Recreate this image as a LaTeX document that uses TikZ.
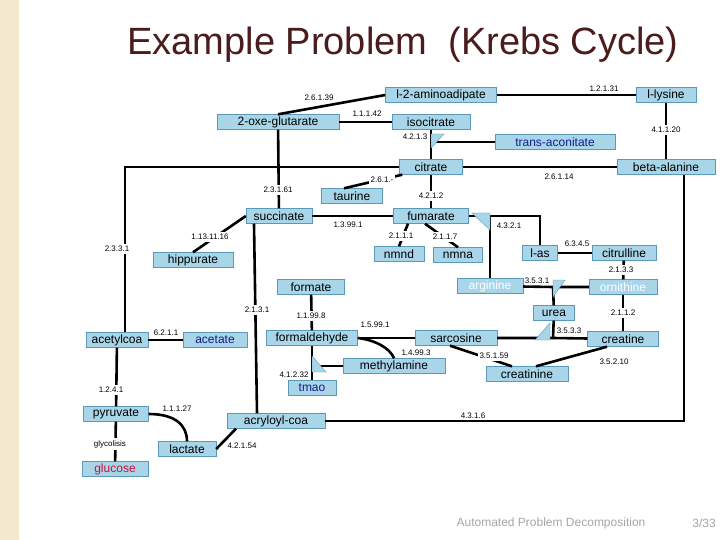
\documentclass[tikz,border=0pt]{standalone}
\usepackage{fontspec}
\setmainfont{Liberation Sans}
\begin{document}
\begin{tikzpicture}[x=1pt,y=-1pt,
  box/.style={draw=boxb, fill=boxf, minimum height=15, inner sep=0pt, font=\fontsize{12}{13}\selectfont},
  lab/.style={font=\fontsize{8}{9}\selectfont, inner sep=0.5pt},
  labw/.style={lab, fill=white, inner sep=2pt},
  e/.style={line width=2.6pt},
  tri/.style={fill=boxf, draw=boxb, line width=0.4pt}]
\definecolor{boxf}{HTML}{A8D5E8}
\definecolor{boxb}{HTML}{5A9AB8}
\definecolor{titc}{HTML}{4A1C1C}
\definecolor{bluet}{HTML}{1A1A8C}
\definecolor{redt}{HTML}{D0103A}
\definecolor{strip}{HTML}{F3E8CE}
\useasboundingbox (0,0) rectangle (720,540);
\fill[white] (0,0) rectangle (720,540);
\fill[strip] (0,0) rectangle (19,540);
\node[text=titc, font=\fontsize{38}{42}\selectfont] (title) at (403,45) {Example Problem\ \ (Krebs Cycle)};
\node[text=gray!70, font=\fontsize{12}{14}\selectfont] (foot) at (551,523) {Automated Problem Decomposition};
\node[text=gray!70, font=\fontsize{12}{14}\selectfont] (page) at (704,523) {3/33};
% nodes
\node[box, minimum width=111] (aa) at (441,95) {l-2-aminoadipate};
\node[box, minimum width=60] (lys) at (666,95) {l-lysine};
\node[box, minimum width=122] (oxe) at (278,122) {2-oxe-glutarate};
\node[box, minimum width=78] (iso) at (431,122) {isocitrate};
\node[box, minimum width=120, text=bluet] (trans) at (555,142) {trans-aconitate};
\node[box, minimum width=63] (cit) at (431,167) {citrate};
\node[box, minimum width=98] (beta) at (666,167) {beta-alanine};
\node[box, minimum width=61] (tau) at (352,196) {taurine};
\node[box, minimum width=66] (suc) at (279,216) {succinate};
\node[box, minimum width=75] (fum) at (431,216) {fumarate};
\node[box, minimum width=50] (nmnd) at (399,254) {nmnd};
\node[box, minimum width=49] (nmna) at (458,255) {nmna};
\node[box, minimum width=35] (las) at (540,253) {l-as};
\node[box, minimum width=64] (citr) at (624,253) {citrulline};
\node[box, minimum width=80] (hip) at (193,260) {hippurate};
\node[box, minimum width=66, text=white] (arg) at (490,286) {arginine};
\node[box, minimum width=68, text=white] (orn) at (623,287) {ornithine};
\node[box, minimum width=67] (form) at (311,287) {formate};
\node[box, minimum width=41] (urea) at (554,313) {urea};
\node[box, minimum width=91] (fald) at (312,338) {formaldehyde};
\node[box, minimum width=82] (sarc) at (456,338) {sarcosine};
\node[box, minimum width=71] (crea) at (623,339) {creatine};
\node[box, minimum width=62] (acoa) at (117,340) {acetylcoa};
\node[box, minimum width=64, text=bluet] (acet) at (215,340) {acetate};
\node[box, minimum width=102] (mea) at (394,366) {methylamine};
\node[box, minimum width=82] (crn) at (527,374) {creatinine};
\node[box, minimum width=48, text=bluet] (tmao) at (312,388) {tmao};
\node[box, minimum width=65] (pyr) at (116,414) {pyruvate};
\node[box, minimum width=98] (acr) at (276,421) {acryloyl-coa};
\node[box, minimum width=58] (lac) at (187,449) {lactate};
\node[box, minimum width=66, text=redt] (glu) at (115,469) {glucose};
% junction coordinates
\coordinate (j1) at (431,142);
\coordinate (j2) at (490,216);
\coordinate (j3) at (553,287);
\coordinate (j4) at (553,338);
\coordinate (j5) at (312,366);
\coordinate (k1) at (125,167);
\coordinate (k2) at (540,216);
\coordinate (k3) at (684,421);
\begin{scope}[e]
\draw (oxe.north) -- (aa.west);
\draw (oxe) -- (iso);
\draw (aa) -- (lys);
\draw (lys) -- (beta);
\draw (iso) -- (j1) -- (cit);
\draw (j1) -- (trans);
\draw (cit) -- (beta);
\draw (cit.west) -- (k1) -- (acoa.north -| k1);
\draw (cit.south west) ++(3,0) -- ([xshift=-8]tau.north);
\draw (cit) -- (fum);
\draw (oxe) -- (suc);
\draw (suc) -- (fum);
\draw (suc.west) -- (hip.north);
\draw ([xshift=-25]suc.south) -- ([xshift=-19]acr.north);
\draw ([xshift=-23]fum.south) -- (nmnd.north);
\draw ([xshift=-6]fum.south) -- (nmna.north);
\draw (fum.east) -- (k2) -- (las.north);
\draw (j2) -- (arg.north);
\draw (las) -- (citr);
\draw (citr) -- (orn);
\draw (arg) -- (j3) -- (orn);
\draw (j3) -- (urea);
\draw (orn) -- (crea);
\draw (urea) -- (j4);
\draw (sarc) -- (j4) -- (crea);
\draw (form) -- (fald);
\draw (fald) -- (sarc);
\draw (fald.east) .. controls (375,340) and (390,348) .. (mea.north);
\draw (fald) -- (j5) -- (tmao);
\draw (j5) -- (mea);
\draw ([xshift=-6]sarc.south) -- ([xshift=-15]crn.north);
\draw ([xshift=-16]crea.south) -- ([xshift=9]crn.north);
\draw (acoa) -- (acet);
\draw (acoa) -- (pyr);
\draw (pyr) -- (glu);
\draw (pyr.east) .. controls (175,414) and (187,425) .. (lac.north);
\draw (lac.east) -- ([xshift=-40]acr.south);
\draw (acr.east) -- (k3) -- (beta.south -| k3);
\end{scope}
% triangles
\fill[tri] (431,134) -- (431,148) -- (444,134) -- cycle;
\fill[tri] (472,213) -- (490,213) -- (490,230) -- cycle;
\fill[tri] (553,280) -- (553,297) -- (565,280) -- cycle;
\fill[tri] (550,323) -- (550,340) -- (535,340) -- cycle;
\fill[tri] (312,356) -- (312,372) -- (326,372) -- cycle;
% labels
\node[lab] (l1) at (319,98) {2.6.1.39};
\node[lab] (l2) at (367,114) {1.1.1.42};
\node[lab] (l3) at (604,89) {1.2.1.31};
\node[labw] (l4) at (666,130) {4.1.1.20};
\node[lab] (l5) at (415,137) {4.2.1.3};
\node[lab] (l6) at (559,177) {2.6.1.14};
\node[labw] (l7) at (117,249) {2.3.3.1};
\node[labw] (l8) at (382,180) {2.6.1.-};
\node[labw] (l9) at (431,196) {4.2.1.2};
\node[labw] (l10) at (278,190) {2.3.1.61};
\node[lab] (l11) at (348,225) {1.3.99.1};
\node[labw] (l12) at (210,237) {1.13.11.16};
\node[labw] (l13) at (257,310) {2.1.3.1};
\node[labw] (l14) at (401,236) {2.1.1.1};
\node[labw] (l15) at (445,237) {2.1.1.7};
\node[lab] (l16) at (509,226) {4.3.2.1};
\node[lab] (l17) at (577,244) {6.3.4.5};
\node[labw] (l18) at (621,270) {2.1.3.3};
\node[lab] (l19) at (537,281) {3.5.3.1};
\node[labw] (l20) at (623,313) {2.1.1.2};
\node[lab] (l21) at (569,331) {3.5.3.3};
\node[labw] (l22) at (311,316) {1.1.99.8};
\node[lab] (l23) at (375,325) {1.5.99.1};
\node[lab] (l24) at (416,353) {1.4.99.3};
\node[lab] (l25) at (294,375) {4.1.2.32};
\node[labw] (l26) at (494,356) {3.5.1.59};
\node[lab] (l27) at (614,362) {3.5.2.10};
\node[lab] (l28) at (166,333) {6.2.1.1};
\node[labw] (l29) at (111,390) {1.2.4.1};
\node[labw] (l30) at (110,444) {glycolisis};
\node[lab] (l31) at (177,409) {1.1.1.27};
\node[lab] (l32) at (242,446) {4.2.1.54};
\node[lab] (l33) at (473,416) {4.3.1.6};
\end{tikzpicture}
\end{document}
